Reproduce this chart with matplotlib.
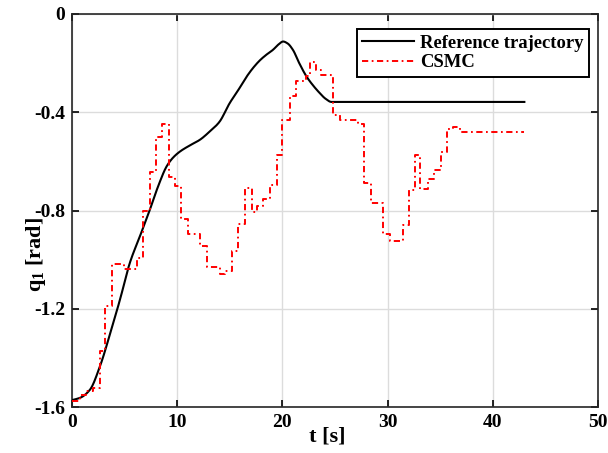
import matplotlib
matplotlib.use("Agg")
import matplotlib.pyplot as plt
import numpy as np

# Reference trajectory (smooth)
ref_t = [0, 0.8, 1.7, 2.66, 3.6, 4.56, 5.5, 6.5, 7.4, 8.2, 9.0, 9.6, 10.26, 11.2,
         12.16, 13.1, 14.0, 15.0, 15.8, 16.6, 17.3, 17.9, 18.5, 19.1, 19.6, 20.07,
         20.5, 21.0, 21.6, 22.3, 22.9, 23.55, 24.1, 24.66, 30, 43]
ref_q = [-1.572, -1.562, -1.53, -1.434, -1.305, -1.163, -1.013, -0.90, -0.797, -0.70,
         -0.62, -0.585, -0.56, -0.535, -0.512, -0.478, -0.44, -0.362, -0.31, -0.255,
         -0.215, -0.187, -0.165, -0.146, -0.125, -0.112, -0.12, -0.146, -0.20, -0.255,
         -0.29, -0.322, -0.345, -0.358, -0.358, -0.358]

# CSMC (piecewise-constant)
csmc_t = [0, 0.76, 1.3, 2.0, 2.66, 3.1, 3.77, 4.9, 6.14, 6.77, 7.4, 7.98, 8.6, 9.24,
          9.78, 10.4, 11.05, 12.16, 12.85, 14.05, 14.5, 15.2, 15.8, 16.4, 17.07, 17.6,
          18.17, 18.8, 19.44, 20.0, 20.7, 21.27, 22.2, 22.6, 23.2, 23.7, 24.8, 25.45,
          27.2, 27.8, 28.4, 29.56, 30.2, 31.46, 32.0, 32.6, 33.1, 33.8, 34.4, 35.04,
          35.6, 36.2, 36.85, 43]
csmc_q = [-1.577, -1.553, -1.535, -1.522, -1.373, -1.19, -1.017, -1.037, -0.993, -0.804,
          -0.645, -0.499, -0.447, -0.665, -0.70, -0.835, -0.894, -0.946, -1.03, -1.057,
          -1.045, -0.965, -0.856, -0.709, -0.808, -0.78, -0.753, -0.695, -0.573, -0.431,
          -0.332, -0.272, -0.252, -0.194, -0.228, -0.25, -0.41, -0.431, -0.447, -0.687,
          -0.770, -0.897, -0.925, -0.859, -0.716, -0.573, -0.713, -0.671, -0.637, -0.56,
          -0.467, -0.462, -0.482, -0.482]

x_ticks = [0, 10, 20, 30, 40, 50]
y_ticks = [-1.6, -1.2, -0.8, -0.4, 0]
y_tick_labels = ["-1.6", "-1.2", "-0.8", "-0.4", "0"]

plt.rcParams['font.family'] = ['Liberation Serif', 'DejaVu Serif']
plt.rcParams['mathtext.fontset'] = 'custom'
plt.rcParams['mathtext.rm'] = 'Liberation Serif:bold'
plt.rcParams['mathtext.it'] = 'Liberation Serif:bold'
plt.rcParams['mathtext.bf'] = 'Liberation Serif:bold'

fig = plt.figure(figsize=(6.08, 4.53), dpi=100)
ax = fig.add_axes([72/608, 1-407/453, (598-72)/608, (407-14)/453])

tt = np.array(ref_t, float); qq = np.array(ref_q, float)
dense_t = np.linspace(0, 43, 800)
def pchip(x, y, xn):
    h = np.diff(x); d = np.diff(y)/h
    m = np.zeros_like(y)
    for k in range(1, len(x)-1):
        if d[k-1]*d[k] > 0:
            w1 = 2*h[k]+h[k-1]; w2 = h[k]+2*h[k-1]
            m[k] = (w1+w2)/(w1/d[k-1]+w2/d[k])
    m[0] = d[0]; m[-1] = d[-1]
    idx = np.clip(np.searchsorted(x, xn)-1, 0, len(x)-2)
    t = (xn - x[idx])/h[idx]
    h00 = 2*t**3-3*t**2+1; h10 = t**3-2*t**2+t; h01 = -2*t**3+3*t**2; h11 = t**3-t**2
    return h00*y[idx]+h10*h[idx]*m[idx]+h01*y[idx+1]+h11*h[idx]*m[idx+1]
dense_q = pchip(tt, qq, dense_t)

ax.plot(dense_t, dense_q, color='black', lw=1.5, label='Reference trajectory', zorder=3)
ax.step(csmc_t, csmc_q, where='post', color='red', ls=(0, (3.2, 1.8, 0.9, 1.8)),
        lw=1.4, label='CSMC', zorder=4)

ax.set_xlim(0, 50)
ax.set_ylim(-1.6, 0)
ax.set_xticks(x_ticks)
ax.set_yticks(y_ticks)
ax.set_yticklabels(y_tick_labels)
ax.grid(True, color='#dcdcdc', lw=1.0)
ax.set_axisbelow(True)
ax.tick_params(direction='in', top=True, right=True, length=5, width=1.2,
               labelsize=14, pad=5)
for lab in ax.get_xticklabels() + ax.get_yticklabels():
    lab.set_fontweight('bold')
for sp in ax.spines.values():
    sp.set_linewidth(1.2)
    sp.set_color('#262626')

ax.set_xlabel('t [s]', fontsize=16, fontweight='bold')
ax.xaxis.set_label_coords((327-72)/526, -(437-407)/393)
ax.xaxis.label.set_va('center')
ax.set_ylabel(r'$\mathbf{q_1}$ [rad]', fontsize=16, fontweight='bold')
ax.yaxis.set_label_coords(-(72-36)/526, 1-(255-14)/393)
ax.yaxis.label.set_va('center')

leg = ax.legend(loc='upper right', bbox_to_anchor=(1-(598-589)/526, 1-(29-14)/393),
                borderaxespad=0, fancybox=False, framealpha=1, edgecolor='black',
                prop={'family': 'Liberation Serif', 'weight': 'bold', 'size': 13.4},
                handlelength=2.8, labelspacing=0.15, borderpad=0.3, handletextpad=0.3)
leg.get_frame().set_linewidth(1.4)

fig.savefig('out.png', dpi=100)
